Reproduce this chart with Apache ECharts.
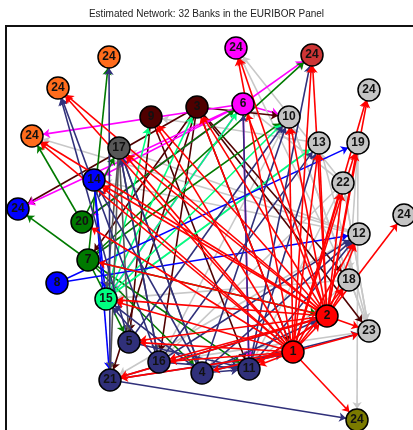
<!DOCTYPE html>
<html>
<head>
<meta charset="utf-8">
<script src="https://cdn.jsdelivr.net/npm/echarts@6/dist/echarts.min.js"></script>
<style>
  html, body { margin: 0; padding: 0; background: #fff; }
  #net { width: 413px; height: 430px; }
</style>
</head>
<body>
<div id="net"></div>
<script>
// banks (node ids), their printed labels and the layout position of each
let nodeIds = ["1", "2", "3", "4", "5", "6", "7", "8", "9", "10", "11", "12", "13", "14", "15", "16",
  "17", "18", "19", "20", "21", "22", "23", "24a", "24b", "24c", "24d", "24e", "24f", "24g", "24h", "24i"];
let nodeLabels = ["1", "2", "3", "4", "5", "6", "7", "8", "9", "10", "11", "12", "13", "14", "15", "16",
  "17", "18", "19", "20", "21", "22", "23", "24", "24", "24", "24", "24", "24", "24", "24", "24"];
let layoutX = [293, 327, 197, 202, 129, 243, 88, 57, 151, 289, 249, 359, 319, 94, 106, 159,
  119, 349, 358, 82, 110, 343, 369, 109, 58, 32, 18, 236, 312, 369, 404, 357];
let layoutY = [352, 316, 107, 373, 342, 104, 260, 283, 117, 117, 369, 234, 143, 180, 299, 362,
  148, 280, 143, 222, 380, 183, 331, 57, 88, 136, 209, 48, 55, 90, 215, 420];
let nodeGroup = ["red", "red", "maroon", "navy", "navy", "magenta", "green", "blue", "maroon", "gray",
  "navy", "gray", "gray", "blue", "spring", "navy", "dkgray", "gray", "gray", "green", "navy", "gray",
  "gray", "orange", "orange", "orange", "blue", "magenta", "firebrick", "gray", "gray", "olive"];

// estimated directed links (source -> target)
let links = [
  // gray
  ["12", "24c"], ["22", "24e"], ["19", "24i"], ["13", "9"], ["12", "14"], ["22", "6"], ["10", "23"],
  ["22", "23"], ["19", "18"], ["23", "22"], ["23", "13"], ["18", "15"], ["12", "21"], ["22", "16"],
  ["23", "16"], ["12", "4"], ["18", "11"], ["13", "15"], ["10", "16"], ["6", "10"], ["18", "24e"],
  ["23", "10"], ["12", "17"], ["22", "11"],
  // maroon
  ["3", "24d"], ["3", "16"], ["9", "5"], ["3", "1"], ["3", "18"], ["3", "23"], ["3", "10"], ["3", "7"],
  ["9", "11"], ["3", "21"],
  // magenta
  ["6", "24c"], ["6", "24d"], ["6", "24f"], ["6", "11"], ["6", "20"], ["6", "14"], ["6", "15"],
  // green
  ["7", "24a"], ["20", "24c"], ["7", "24d"], ["7", "24f"], ["7", "10"], ["20", "6"], ["7", "2"],
  ["7", "5"], ["20", "17"], ["7", "11"], ["7", "4"],
  // spring green
  ["15", "6"], ["15", "10"], ["15", "3"], ["15", "9"], ["15", "13"],
  // blue
  ["8", "12"], ["8", "19"], ["14", "15"], ["14", "21"],
  // dark gray
  ["17", "15"], ["17", "5"], ["17", "16"], ["17", "21"], ["17", "4"],
  // navy
  ["21", "24a"], ["21", "24i"], ["16", "24b"], ["4", "10"], ["11", "24f"], ["11", "6"], ["4", "12"],
  ["11", "13"], ["4", "1"], ["4", "11"], ["4", "23"], ["5", "11"], ["16", "11"], ["4", "2"],
  ["11", "2"], ["4", "17"], ["16", "15"], ["4", "14"], ["16", "12"], ["21", "1"], ["5", "10"],
  ["16", "13"], ["21", "2"], ["11", "12"], ["4", "15"], ["5", "24b"], ["16", "17"],
  // red
  ["1", "11"], ["1", "16"], ["1", "21"], ["1", "5"], ["1", "15"], ["1", "24i"], ["1", "10"],
  ["1", "13"], ["1", "19"], ["1", "12"], ["1", "9"], ["1", "17"], ["1", "14"], ["1", "24b"],
  ["1", "24c"], ["1", "24e"], ["1", "3"], ["1", "22"], ["1", "18"], ["1", "4"], ["1", "20"],
  ["1", "24g"], ["1", "24f"], ["1", "2"], ["1", "23"],
  ["2", "21"], ["2", "16"], ["2", "10"], ["2", "13"], ["2", "19"], ["2", "24g"], ["2", "22"],
  ["2", "12"], ["2", "18"], ["2", "23"], ["2", "24h"], ["2", "24f"], ["2", "24e"], ["2", "3"],
  ["2", "9"], ["2", "17"], ["2", "24b"], ["2", "24c"], ["2", "14"], ["2", "7"], ["2", "5"],
  ["2", "15"], ["2", "11"], ["2", "6"]
];

let groupColor = {
  red: "#ff0000",
  maroon: "#4f0000",
  navy: "#30307a",
  magenta: "#ff00ff",
  green: "#007a00",
  blue: "#0000ff",
  gray: "#c4c4c4",
  spring: "#00ff80",
  dkgray: "#575757",
  orange: "#ff6c1c",
  firebrick: "#cd3535",
  olive: "#7a7a00"
};

let nodes = nodeIds.map(function (id, i) {
  return {
    id: id,
    name: id,
    value: [layoutX[i], layoutY[i]],
    label: { formatter: nodeLabels[i] },
    itemStyle: { color: groupColor[nodeGroup[i]] }
  };
});

let edges = links.map(function (l) {
  let g = nodeGroup[nodeIds.indexOf(l[0])];
  return {
    source: l[0],
    target: l[1],
    lineStyle: { color: g === "gray" ? "#c8c8c8" : groupColor[g] }
  };
});

let option = {
  animation: false,
  title: {
    text: "Estimated Network: 32 Banks in the EURIBOR Panel",
    left: "center",
    top: 4,
    textStyle: { fontSize: 10, fontWeight: "normal", color: "#222", fontFamily: "Liberation Sans" }
  },
  grid: { left: 0, right: 0, top: 0, bottom: 0 },
  xAxis: { type: "value", min: 0, max: 413, show: false },
  yAxis: { type: "value", min: 0, max: 430, inverse: true, show: false },
  graphic: [
    {
      type: "rect",
      shape: { x: 6, y: 26, width: 440, height: 440 },
      style: { fill: "none", stroke: "#111", lineWidth: 2 },
      silent: true
    }
  ],
  series: [
    {
      type: "graph",
      coordinateSystem: "cartesian2d",
      symbol: "circle",
      symbolSize: 22,
      edgeSymbol: ["none", "arrow"],
      edgeSymbolSize: [0, 7],
      itemStyle: { borderColor: "#000", borderWidth: 1.5 },
      label: {
        show: true,
        position: "inside",
        color: "#111",
        fontSize: 12,
        fontWeight: "bold",
        fontFamily: "Liberation Sans"
      },
      lineStyle: { width: 1.6, opacity: 1 },
      data: nodes,
      links: edges,
      z: 3
    }
  ]
};

let net_chart = echarts.init(document.getElementById("net"));
net_chart.setOption(option);
</script>
</body>
</html>
